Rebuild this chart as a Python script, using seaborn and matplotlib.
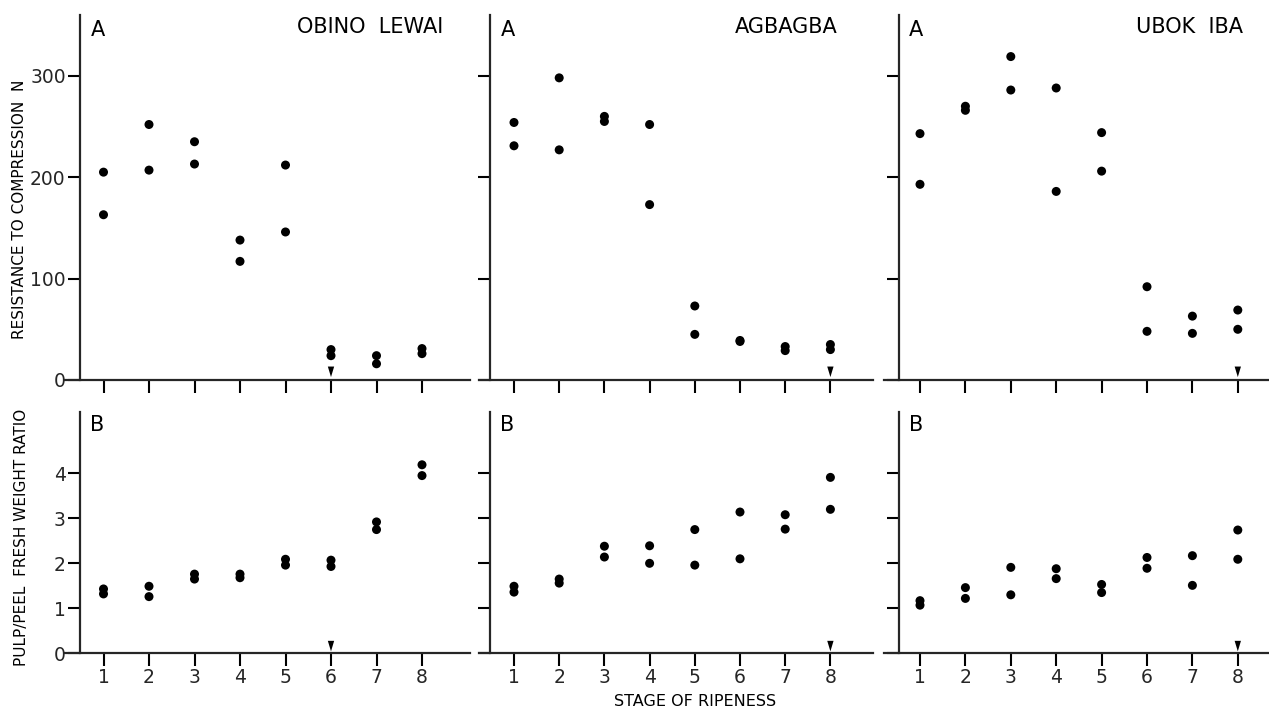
import numpy as np
import pandas as pd
import matplotlib
matplotlib.use("Agg")
import matplotlib.pyplot as plt
from matplotlib.path import Path
import seaborn as sns

# ---------------- data ----------------
cultivars = ["OBINO  LEWAI", "AGBAGBA", "UBOK  IBA"]
stages = [1, 2, 3, 4, 5, 6, 7, 8]

# Resistance to compression (N), two fruits per stage
res_obino_1 = [205, 252, 235, 138, 212, 30, 24, 31]
res_obino_2 = [163, 207, 213, 117, 146, 24, 16, 26]
res_agbagba_1 = [254, 298, 260, 252, 73, 39, 33, 35]
res_agbagba_2 = [231, 227, 255, 173, 45, 38, 29, 30]
res_ubok_1 = [243, 270, 319, 288, 244, 92, 63, 69]
res_ubok_2 = [193, 266, 286, 186, 206, 48, 46, 50]

# Pulp/peel fresh weight ratio, two fruits per stage
ratio_obino_1 = [1.43, 1.49, 1.76, 1.76, 2.09, 2.07, 2.92, 4.19]
ratio_obino_2 = [1.32, 1.26, 1.65, 1.68, 1.96, 1.93, 2.75, 3.95]
ratio_agbagba_1 = [1.49, 1.65, 2.38, 2.39, 2.75, 3.14, 3.08, 3.91]
ratio_agbagba_2 = [1.36, 1.56, 2.14, 2.00, 1.96, 2.10, 2.76, 3.20]
ratio_ubok_1 = [1.17, 1.46, 1.91, 1.88, 1.53, 2.13, 2.17, 2.74]
ratio_ubok_2 = [1.07, 1.22, 1.30, 1.66, 1.35, 1.89, 1.51, 2.09]

# stage marked with an arrowhead on each cultivar's axes
arrow_stage = [6, 8, 8]

res_ticks = [0, 100, 200, 300]
ratio_ticks = [0, 1, 2, 3, 4]

res_sets = [(res_obino_1, res_obino_2), (res_agbagba_1, res_agbagba_2), (res_ubok_1, res_ubok_2)]
ratio_sets = [(ratio_obino_1, ratio_obino_2), (ratio_agbagba_1, ratio_agbagba_2), (ratio_ubok_1, ratio_ubok_2)]

rows = []
for cv, (a, b) in zip(cultivars, res_sets):
    for s, v1, v2 in zip(stages, a, b):
        rows.append((cv, "A", s, v1))
        rows.append((cv, "A", s, v2))
for cv, (a, b) in zip(cultivars, ratio_sets):
    for s, v1, v2 in zip(stages, a, b):
        rows.append((cv, "B", s, v1))
        rows.append((cv, "B", s, v2))
df = pd.DataFrame(rows, columns=["cultivar", "panel", "stage", "value"])

# ---------------- style ----------------
sns.set_style("ticks")
plt.rcParams["font.family"] = ["DejaVu Sans"]
plt.rcParams["axes.linewidth"] = 1.6

W, H = 1269, 711
fig = plt.figure(figsize=(W / 100, H / 100), dpi=100)

# layout (pixels): per column stage-1 x position, stage spacing, x-limits, spine position
col_stage1 = [103.5, 514.0, 920.0]
col_step = [45.5, 45.2, 45.4]
col_xlim = [(0.15, 9.05), (0.23, 8.94), (0.21, 8.69)]
col_spine = [0.49, 0.48, 0.54]
title_right_px = [443, 838, 1243]

row_px = {"A": (15, 380), "B": (411.7, 653.3)}
row_ylim = {"A": (0, 360), "B": (0, 5.37)}
row_ticks = {"A": res_ticks, "B": ratio_ticks}

arrow_marker = Path([(-0.6, 2.0), (0.6, 2.0), (0.0, 0.0), (-0.6, 2.0)],
                    [Path.MOVETO, Path.LINETO, Path.LINETO, Path.CLOSEPOLY])

for ci, cv in enumerate(cultivars):
    x0, x1 = col_xlim[ci]
    left_px = col_stage1[ci] - (1 - x0) * col_step[ci]
    width_px = (x1 - x0) * col_step[ci]
    for panel in ["A", "B"]:
        top_px, bot_px = row_px[panel]
        ax = fig.add_axes([left_px / W, 1 - bot_px / H, width_px / W, (bot_px - top_px) / H])
        sub = df[(df.cultivar == cv) & (df.panel == panel)]
        sns.scatterplot(data=sub, x="stage", y="value", color="black", s=42,
                        edgecolor="none", legend=False, ax=ax, clip_on=False, zorder=3)
        ylo, yhi = row_ylim[panel]
        ax.scatter([arrow_stage[ci]], [ylo + 0.008 * (yhi - ylo)], marker=arrow_marker,
                   s=230, color="black", edgecolor="none", zorder=4, clip_on=False)
        ax.set_xlim(x0, x1)
        ax.set_ylim(ylo, yhi)
        ax.spines["top"].set_visible(False)
        ax.spines["right"].set_visible(False)
        ax.spines["left"].set_position(("data", col_spine[ci]))
        ax.set_xticks(stages)
        ax.set_yticks(row_ticks[panel])
        ax.tick_params(axis="both", direction="out", length=9, width=1.5,
                       labelsize=13.5, pad=1.5, color="black")
        if panel == "A":
            ax.tick_params(axis="x", labelbottom=False)
        if ci != 0:
            ax.tick_params(axis="y", labelleft=False)
        ax.set_xlabel("")
        ax.set_ylabel("")
        ax.text((col_spine[ci] - x0) / (x1 - x0) + 0.025, 0.985, panel,
                transform=ax.transAxes, fontsize=15, va="top", ha="left", color="black")

    fig.text(title_right_px[ci] / W, 1 - 27 / H, cv, ha="right", va="center",
             fontsize=15, color="black")

fig.text(20 / W, 1 - 209 / H, "RESISTANCE TO COMPRESSION  N", rotation=90,
         ha="center", va="center", fontsize=11, color="black")
fig.text(22 / W, 1 - 537 / H, "PULP/PEEL  FRESH WEIGHT RATIO", rotation=90,
         ha="center", va="center", fontsize=11, color="black")
fig.text(695 / W, 1 - 701 / H, "STAGE OF RIPENESS", ha="center", va="center",
         fontsize=11.5, color="black")

fig.savefig("out.png", dpi=100, facecolor="white")
